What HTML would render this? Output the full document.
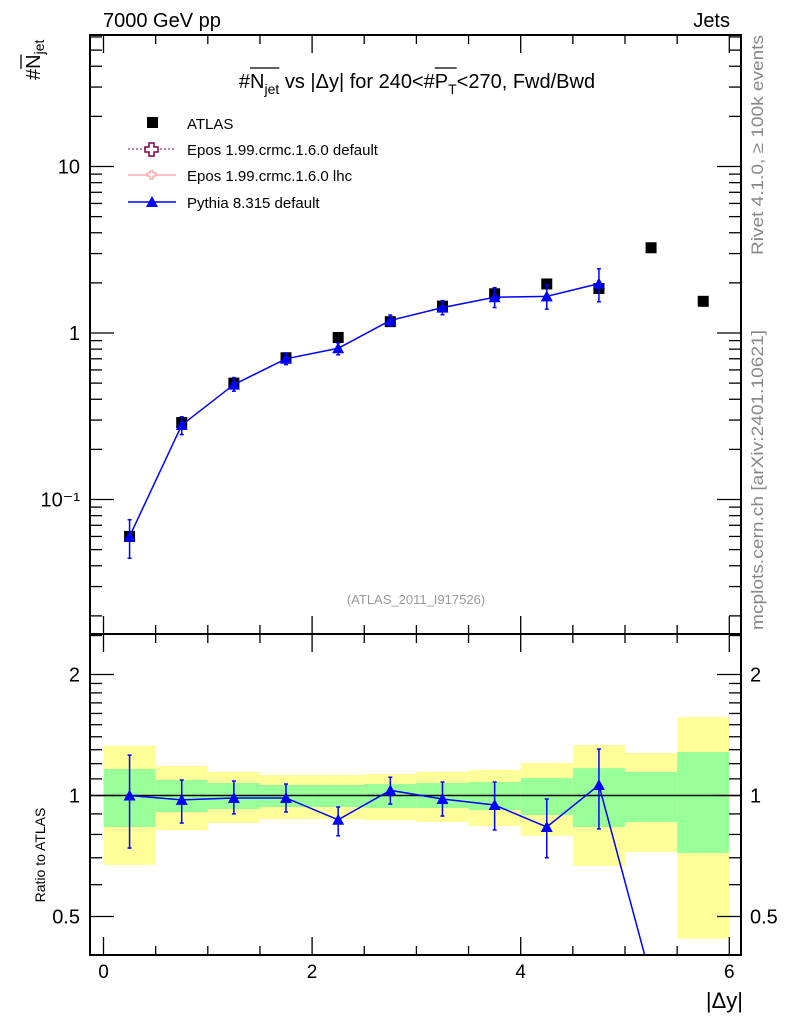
<!DOCTYPE html>
<html><head><meta charset="utf-8"><style>
body{margin:0;background:#fff;}
svg text{font-family:"Liberation Sans",Arial,sans-serif;}
</style></head><body>
<svg id="c" width="786" height="1024" xmlns="http://www.w3.org/2000/svg">
<g id="bands"></g>
<g id="marks"></g>
<g id="axes"></g>
<text x="103" y="27" font-size="20">7000 GeV pp</text>
<text x="730" y="27" font-size="20" text-anchor="end">Jets</text>
<g id="titleg">
<text id="title" x="417" y="88" font-size="20" text-anchor="middle">#N<tspan font-size="14" dy="6">jet</tspan><tspan dy="-6"> vs |Δy| for 240&lt;#P</tspan><tspan font-size="14" dy="6">T</tspan><tspan dy="-6">&lt;270, Fwd/Bwd</tspan></text>
</g>
<g id="ytg" transform="translate(40,80) rotate(-90)">
<text id="yt" x="0" y="0" font-size="20">#N<tspan font-size="14" dy="4">jet</tspan></text>
</g>
<text transform="translate(45,855) rotate(-90)" font-size="14" text-anchor="middle">Ratio to ATLAS</text>
<text x="743" y="1008" font-size="22" text-anchor="end">|Δy|</text>
<text transform="translate(763,145) rotate(-90)" font-size="17" fill="#888" text-anchor="middle" textLength="220" lengthAdjust="spacingAndGlyphs">Rivet 4.1.0, ≥ 100k events</text>
<text transform="translate(763,480) rotate(-90)" font-size="17" fill="#888" text-anchor="middle" textLength="300" lengthAdjust="spacingAndGlyphs">mcplots.cern.ch [arXiv:2401.10621]</text>
<text x="416" y="604" font-size="13" fill="#999" text-anchor="middle">(ATLAS_2011_I917526)</text>
<g>
<g><rect x="147" y="117" width="11" height="11" fill="#000"/><text x="187" y="129" font-size="15">ATLAS</text></g>
<g><line x1="128" y1="149" x2="176" y2="149" stroke="#800040" stroke-dasharray="2,2"/><path d="M149,143h5v4h4v5h-4v4h-5v-4h-4v-5h4z" fill="#fff" stroke="#800040" stroke-width="1.5"/><text x="187" y="155" font-size="15">Epos 1.99.crmc.1.6.0 default</text></g>
<g><line x1="128" y1="175" x2="176" y2="175" stroke="#f88"/><path d="M150,171h3v2h3v3h-3v3h-3v-3h-3v-3h3z" fill="#fff" stroke="#f88"/><text x="187" y="181" font-size="15">Epos 1.99.crmc.1.6.0 lhc</text></g>
<g><line x1="128" y1="202" x2="176" y2="202" stroke="#00f" stroke-width="1.5"/><path d="M146,207l6,-11l6,11z" fill="#00f"/><text x="187" y="208" font-size="15">Pythia 8.315 default</text></g>
</g>
</svg>
<script>
const xCenters=[0.25,0.75,1.25,1.75,2.25,2.75,3.25,3.75,4.25,4.75,5.25,5.75];
const atlasVals=[0.06,0.29,0.50,0.71,0.94,1.17,1.45,1.72,1.97,1.85,3.25,1.55];
const pythiaVals=[0.06,0.28,0.49,0.70,0.81,1.19,1.42,1.64,1.66,1.98];
const pythiaRatio=[1.0,0.975,0.986,0.986,0.87,1.03,0.98,0.947,0.835,1.062,0.35];
const pythiaRatioHi=[1.26,1.093,1.086,1.068,0.936,1.11,1.08,1.08,0.98,1.305];
const pythiaRatioLo=[0.74,0.854,0.90,0.91,0.794,0.952,0.889,0.821,0.70,0.826];
const yellowHi=[1.33,1.184,1.144,1.125,1.125,1.131,1.144,1.157,1.205,1.335,1.276,1.567];
const yellowLo=[0.672,0.821,0.854,0.874,0.874,0.868,0.859,0.84,0.794,0.668,0.723,0.44];
const greenHi=[1.164,1.093,1.074,1.062,1.062,1.068,1.074,1.08,1.105,1.17,1.144,1.283];
const greenLo=[0.835,0.91,0.925,0.936,0.936,0.931,0.931,0.92,0.894,0.835,0.859,0.719];
const xTicks=[0,2,4,6];
const mainTicks=[0.1,1,10];
const mainTickLabels=["10\u207B\u00B9","1","10"];
const ratioTicks=[0.5,1,2];
const ratioTickLabels=["0.5","1","2"];

const NS="http://www.w3.org/2000/svg";
const L=90,R=741,T=35,MB=634,B=955;
const X=v=>103.5+v*104.3;
const YM=v=>333-Math.log10(v)*166.5;
const YR=v=>795.5-Math.log2(v)*121;
function mk(p,tag,a){const e=document.createElementNS(NS,tag);for(const k in a)e.setAttribute(k,a[k]);p.appendChild(e);return e;}
const bands=document.getElementById('bands'),marks=document.getElementById('marks'),axes=document.getElementById('axes');
// overlines
function over(textId,gId,i0,i1,y){const t=document.getElementById(textId);
 const a=t.getExtentOfChar(i0),b=t.getExtentOfChar(i1);
 const ln=mk(document.getElementById(gId),'line',{x1:a.x,x2:b.x+b.width,y1:y,y2:y,stroke:'#000','stroke-width':1.3});
 
 }
over('title','titleg',1,4,68);
over('title','titleg',23,24,68);
over('yt','ytg',1,1,-19);
const defs=mk(document.getElementById('c'),'defs',{});
const cp=mk(defs,'clipPath',{id:'rc'});mk(cp,'rect',{x:L,y:MB,width:R-L,height:B-MB});
for(let i=0;i<xCenters.length;i++){
 const x0=X(xCenters[i]-0.25),w=X(0.5)-X(0);
 let r=mk(bands,'rect',{x:x0,y:YR(yellowHi[i]),width:w,height:YR(yellowLo[i])-YR(yellowHi[i]),fill:'#ffff99'});
 
 
 r=mk(bands,'rect',{x:x0,y:YR(greenHi[i]),width:w,height:YR(greenLo[i])-YR(greenHi[i]),fill:'#99ff99'});
 
 
}
mk(marks,'line',{x1:L,x2:R,y1:YR(1),y2:YR(1),stroke:'#000','stroke-width':1.5});
atlasVals.forEach((v,i)=>{const r=mk(marks,'rect',{x:X(xCenters[i])-5.5,y:YM(v)-5.5,width:11,height:11,fill:'#000'});
 
 });
let d=pythiaVals.map((v,i)=>(i?'L':'M')+X(xCenters[i])+','+YM(v)).join('');
let pl=mk(marks,'path',{d:d,fill:'none',stroke:'#00f','stroke-width':1.5});


function tri(g,x,y){return mk(g,'path',{d:`M${x-6},${y+5}L${x},${y-6}L${x+6},${y+5}Z`,fill:'#00f'});}
function err(g,x,y1,y2){mk(g,'line',{x1:x,x2:x,y1:y1,y2:y2,stroke:'#00f','stroke-width':1.5});
 mk(g,'line',{x1:x-2,x2:x+2,y1:y1,y2:y1,stroke:'#00f','stroke-width':1.5});mk(g,'line',{x1:x-2,x2:x+2,y1:y2,y2:y2,stroke:'#00f','stroke-width':1.5});}
pythiaVals.forEach((v,i)=>{const x=X(xCenters[i]);const rr=pythiaRatio[i];
 err(marks,x,YM(v*pythiaRatioHi[i]/rr),YM(v*pythiaRatioLo[i]/rr));
 const t=tri(marks,x,YM(v));
 
 });
const rg=mk(marks,'g',{'clip-path':'url(#rc)'});
d=pythiaRatio.map((v,i)=>(i?'L':'M')+X(xCenters[i])+','+YR(v)).join('');
pl=mk(rg,'path',{d:d,fill:'none',stroke:'#00f','stroke-width':1.5});


pythiaRatioHi.forEach((h,i)=>{const x=X(xCenters[i]);err(rg,x,YR(h),YR(pythiaRatioLo[i]));
 const t=tri(rg,x,YR(pythiaRatio[i]));
 
 });
mk(axes,'rect',{x:L,y:T,width:R-L,height:B-T,fill:'none',stroke:'#000','stroke-width':2});
mk(axes,'line',{x1:L,x2:R,y1:MB,y2:MB,stroke:'#000','stroke-width':2});
for(let v=0;v<=6.001;v+=0.5){const x=X(v),maj=Math.abs(v-Math.round(v/2)*2)<1e-6,len=maj?18:9;
 [[B,-1],[MB,-1],[MB,1],[T,1]].forEach(([y,s])=>mk(axes,'line',{x1:x,x2:x,y1:y,y2:y+s*len,stroke:'#000','stroke-width':1.3}));}
xTicks.forEach(v=>{const t=mk(axes,'text',{x:X(v),y:978,'font-size':19,'text-anchor':'middle'});t.textContent=v;
 
 });
for(let e=-2;e<=1;e++)for(let m=1;m<10;m++){const v=m*Math.pow(10,e),y=YM(v);if(y<T||y>MB)continue;const len=m==1?24:12;
 mk(axes,'line',{x1:L,x2:L+len,y1:y,y2:y,stroke:'#000','stroke-width':1.3});mk(axes,'line',{x1:R,x2:R-len,y1:y,y2:y,stroke:'#000','stroke-width':1.3});}
mainTicks.forEach((v,i)=>{const t=mk(axes,'text',{x:80,y:YM(v)+7,'font-size':20,'text-anchor':'end'});t.textContent=mainTickLabels[i];
 
 });
for(let v=0.4;v<=2.5001;v+=(v<1.999?0.1:0.5)){const y=YR(v);if(y<MB||y>B)continue;const maj=[0.5,1,2].some(m=>Math.abs(m-v)<1e-6),len=maj?24:12;
 mk(axes,'line',{x1:L,x2:L+len,y1:y,y2:y,stroke:'#000','stroke-width':1.3});mk(axes,'line',{x1:R,x2:R-len,y1:y,y2:y,stroke:'#000','stroke-width':1.3});}
ratioTicks.forEach((v,i)=>{let t=mk(axes,'text',{x:80,y:YR(v)+7,'font-size':20,'text-anchor':'end'});t.textContent=ratioTickLabels[i];
 
 
 t=mk(axes,'text',{x:750,y:YR(v)+7,'font-size':20});t.textContent=ratioTickLabels[i];
 
 });
</script>
</body></html>
